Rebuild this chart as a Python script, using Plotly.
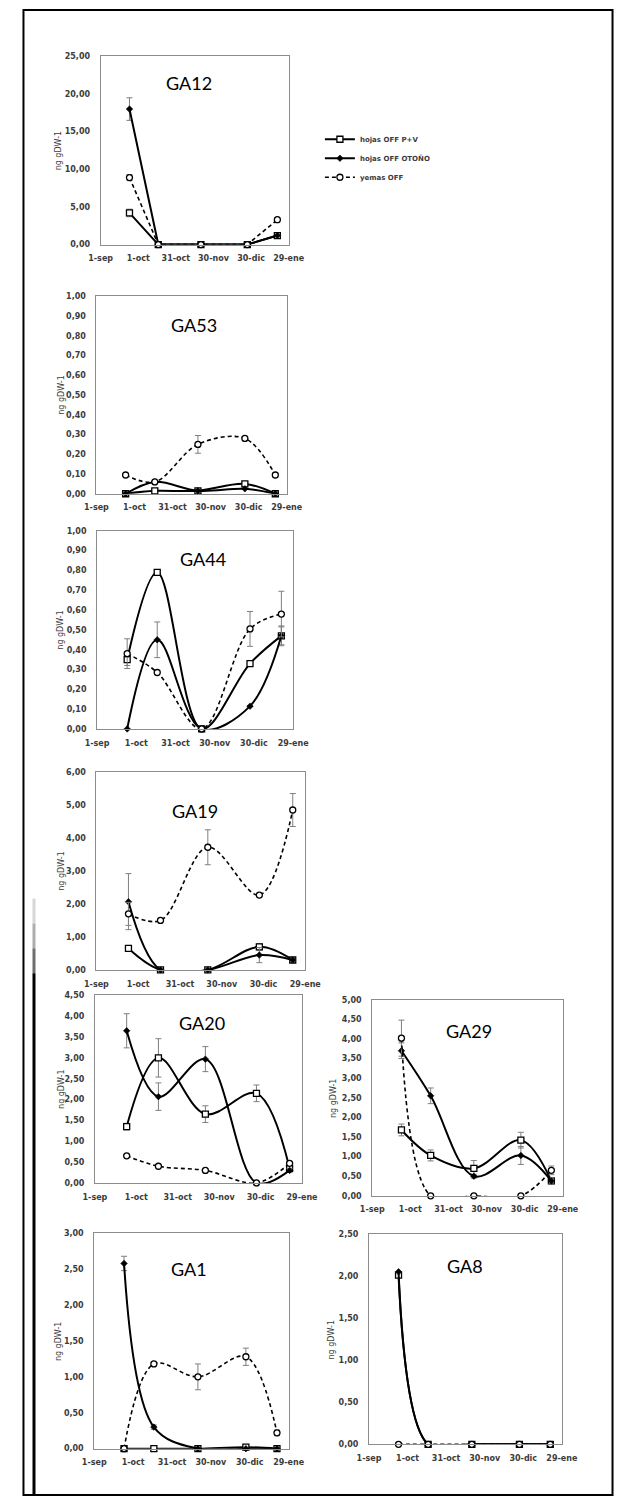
import plotly.graph_objects as go

W, H = 640, 1508

# sampling dates and date-axis ticks
fechas = ["2011-09-24", "2011-10-17", "2011-11-20", "2011-12-27", "2012-01-20"]
fechas_eje = ["2011-09-01", "2011-10-01", "2011-10-31", "2011-11-30", "2011-12-30", "2012-01-29"]
etiquetas_eje = ["1-sep", "1-oct", "31-oct", "30-nov", "30-dic", "29-ene"]

nombres = ["hojas OFF P+V", "hojas OFF OTOÑO", "yemas OFF"]
titulo_y = "ng gDW-1"

# GA12
ga12_pv = [4.2, 0, 0, 0, 1.2]
ga12_pv_err = [0.5, 0, 0, 0, 0]
ga12_oto = [18.0, 0, 0, 0, 1.2]
ga12_oto_err = [1.5, 0, 0, 0, 0]
ga12_yem = [8.9, 0, 0, 0, 3.3]
ga12_yem_err = [0.4, 0, 0, 0, 0]

# GA53
ga53_pv = [0, 0.015, 0.015, 0.05, 0]
ga53_pv_err = [0, 0, 0, 0.005, 0]
ga53_oto = [0, 0.06, 0.015, 0.025, 0]
ga53_oto_err = [0, 0, 0, 0, 0]
ga53_yem = [0.095, 0.06, 0.25, 0.28, 0.095]
ga53_yem_err = [0, 0, 0.045, 0, 0.01]

# GA44
ga44_pv = [0.35, 0.79, 0, 0.33, 0.47]
ga44_pv_err = [0.03, 0, 0, 0, 0.045]
ga44_oto = [0, 0.45, 0, 0.115, 0.47]
ga44_oto_err = [0, 0.09, 0, 0, 0.05]
ga44_yem = [0.38, 0.285, 0, 0.505, 0.58]
ga44_yem_err = [0.075, 0, 0, 0.088, 0.115]

# GA19
ga19_pv = [0.65, 0, 0, 0.7, 0.3]
ga19_pv_err = [0.05, 0, 0, 0.1, 0]
ga19_oto = [2.07, 0, 0, 0.45, 0.3]
ga19_oto_err = [0.85, 0, 0, 0.23, 0]
ga19_yem = [1.7, 1.5, 3.72, 2.27, 4.85]
ga19_yem_err = [0.35, 0, 0.53, 0.05, 0.5]

# GA20
ga20_pv = [1.35, 3.0, 1.65, 2.15, 0.35]
ga20_pv_err = [0.08, 0.46, 0.2, 0.2, 0.05]
ga20_oto = [3.65, 2.07, 2.97, 0, 0.3]
ga20_oto_err = [0.41, 0.33, 0.3, 0, 0.05]
ga20_yem = [0.65, 0.4, 0.3, 0, 0.47]
ga20_yem_err = [0, 0, 0, 0, 0]

# GA29
ga29_pv = [1.68, 1.03, 0.7, 1.42, 0.38]
ga29_pv_err = [0.15, 0.14, 0.2, 0.2, 0.08]
ga29_oto = [3.7, 2.55, 0.5, 1.03, 0.38]
ga29_oto_err = [0.2, 0.2, 0.05, 0.23, 0.08]
ga29_yem = [4.02, 0, 0, 0, 0.65]
ga29_yem_err = [0.46, 0, 0, 0, 0.11]

# GA1
ga1_pv = [0, 0, 0, 0.02, 0]
ga1_pv_err = [0, 0, 0, 0, 0]
ga1_oto = [2.58, 0.3, 0, 0, 0]
ga1_oto_err = [0.1, 0.03, 0, 0, 0]
ga1_yem = [0, 1.18, 1.0, 1.28, 0.22]
ga1_yem_err = [0, 0.02, 0.18, 0.12, 0.04]

# GA8
ga8_pv = [2.01, 0, 0, 0, 0]
ga8_pv_err = [0, 0, 0, 0, 0]
ga8_oto = [2.05, 0, 0, 0, 0]
ga8_oto_err = [0, 0, 0, 0, 0]
ga8_yem = [0, 0, 0, 0, 0]
ga8_yem_err = [0, 0, 0, 0, 0]

# panel layout: name, frame box in px (left, top, right, bottom), y max, y step,
# title centre in px, x of the y-axis caption in px, smoothed lines
paneles = [
    ("GA12", (92.7, 52.7, 289.3, 242.0), 25, 5, (185, 79), 49, False,
     (ga12_pv, ga12_pv_err), (ga12_oto, ga12_oto_err), (ga12_yem, ga12_yem_err)),
    ("GA53", (88.3, 294.0, 287.3, 492.7), 1, 0.1, (190, 322.7), 51, True,
     (ga53_pv, ga53_pv_err), (ga53_oto, ga53_oto_err), (ga53_yem, ga53_yem_err)),
    ("GA44", (89.0, 530.0, 294.0, 729.3), 1, 0.1, (200, 558), 51, True,
     (ga44_pv, ga44_pv_err), (ga44_oto, ga44_oto_err), (ga44_yem, ga44_yem_err)),
    ("GA19", (88.3, 772.7, 306.7, 971.7), 6, 1, (191.7, 811.7), 52, True,
     (ga19_pv, ga19_pv_err), (ga19_oto, ga19_oto_err), (ga19_yem, ga19_yem_err)),
    ("GA20", (86.7, 997.3, 303.3, 1186.0), 4.5, 0.5, (198.3, 1025), 51, True,
     (ga20_pv, ga20_pv_err), (ga20_oto, ga20_oto_err), (ga20_yem, ga20_yem_err)),
    ("GA29", (376.7, 1001.7, 576.0, 1199.0), 5, 0.5, (478.3, 1033), 337, True,
     (ga29_pv, ga29_pv_err), (ga29_oto, ga29_oto_err), (ga29_yem, ga29_yem_err)),
    ("GA1", (86.0, 1236.7, 289.3, 1453.3), 3, 0.5, (185, 1273), 49.3, True,
     (ga1_pv, ga1_pv_err), (ga1_oto, ga1_oto_err), (ga1_yem, ga1_yem_err)),
    ("GA8", (373.3, 1237.3, 575.0, 1449.0), 2.5, 0.5, (473.3, 1269.3), 334, True,
     (ga8_pv, ga8_pv_err), (ga8_oto, ga8_oto_err), (ga8_yem, ga8_yem_err)),
]

TXT = "#3c3c3c"
FRAME = "#8c8c8c"
ERR = "#7f7f7f"

estilos = [
    dict(line=dict(color="black", width=2),
         marker=dict(symbol="square", size=6, color="white", line=dict(color="black", width=1.3))),
    dict(line=dict(color="black", width=2),
         marker=dict(symbol="diamond", size=5, color="black", line=dict(color="black", width=0.6))),
    dict(line=dict(color="black", width=1.6, dash="4px,3px"),
         marker=dict(symbol="circle", size=6, color="white", line=dict(color="black", width=1.3))),
]

fig = go.Figure()
layout = dict(
    width=W, height=H, margin=dict(l=0, r=0, t=0, b=0),
    paper_bgcolor="white", plot_bgcolor="white",
    separators=",.",
    showlegend=True,
    legend=dict(x=322 / W, y=1 - 121.5 / H, xanchor="left", yanchor="top",
                bgcolor="rgba(0,0,0,0)", borderwidth=0,
                font=dict(family="DejaVu Sans", size=7, color=TXT, weight="bold")),
    annotations=[], shapes=[],
)

for i, (nombre, (x0, y0, x1, y1), ymax, paso, (tx, ty), xt, suave,
        *series) in enumerate(paneles, start=1):
    xa = "x" if i == 1 else f"x{i}"
    ya = "y" if i == 1 else f"y{i}"
    for k, (vals, errs) in enumerate(series):
        fig.add_trace(go.Scatter(
            x=fechas, y=vals, mode="lines+markers", name=nombres[k],
            xaxis=xa, yaxis=ya, showlegend=(i == 1),
            line=dict(estilos[k]["line"], shape="spline" if suave else "linear",
                      smoothing=1.0),
            marker=estilos[k]["marker"],
            error_y=dict(type="data", array=errs, color=ERR, thickness=1, width=3),
            cliponaxis=False,
        ))
    sfx = "" if i == 1 else str(i)
    layout["xaxis" + sfx] = dict(
        domain=[x0 / W, x1 / W], anchor=ya, type="date",
        range=[fechas_eje[0], fechas_eje[-1]],
        tickmode="array", tickvals=fechas_eje, ticktext=etiquetas_eje,
        showgrid=False, zeroline=False, showline=True, mirror=True,
        linecolor=FRAME, linewidth=1, ticks="", ticklabelstandoff=6,
        tickfont=dict(family="DejaVu Sans", size=8, color=TXT, weight="bold"),
    )
    layout["yaxis" + sfx] = dict(
        domain=[1 - y1 / H, 1 - y0 / H], anchor=xa,
        range=[0, ymax], dtick=paso, tick0=0, tickformat=".2f",
        showgrid=False, zeroline=False, showline=True, mirror=True,
        linecolor=FRAME, linewidth=1, ticks="", ticklabelstandoff=8,
        tickfont=dict(family="DejaVu Sans", size=8, color=TXT, weight="bold"),
    )
    # panel title
    layout["annotations"].append(dict(
        text=nombre, x=tx / W, y=1 - ty / H, xref="paper", yref="paper",
        xanchor="center", yanchor="middle", showarrow=False,
        font=dict(family="Lato", size=18, color="black")))
    # y-axis caption
    layout["annotations"].append(dict(
        text=titulo_y, x=xt / W, y=1 - (y0 + y1) / 2 / H, xref="paper", yref="paper",
        xanchor="center", yanchor="middle", showarrow=False, textangle=-90,
        font=dict(family="DejaVu Sans", size=8, color=TXT)))

# page border
layout["shapes"].append(dict(type="rect", xref="paper", yref="paper",
                             x0=12 / W, x1=628 / W, y0=1 - 1500 / H, y1=1 - 6 / H,
                             line=dict(color="black", width=2)))

# inner edge shadow along the lower left side
for (ya0, ya1, col) in [(900, 925, "#d6d6d6"), (925, 950, "#adadad"),
                        (950, 975, "#6e6e6e"), (975, 1500, "black")]:
    layout["shapes"].append(dict(type="line", xref="paper", yref="paper",
                                 x0=23 / W, x1=23 / W, y0=1 - ya0 / H, y1=1 - ya1 / H,
                                 line=dict(color=col, width=3)))

fig.update_layout(**layout)
fig.write_html("out.html")
